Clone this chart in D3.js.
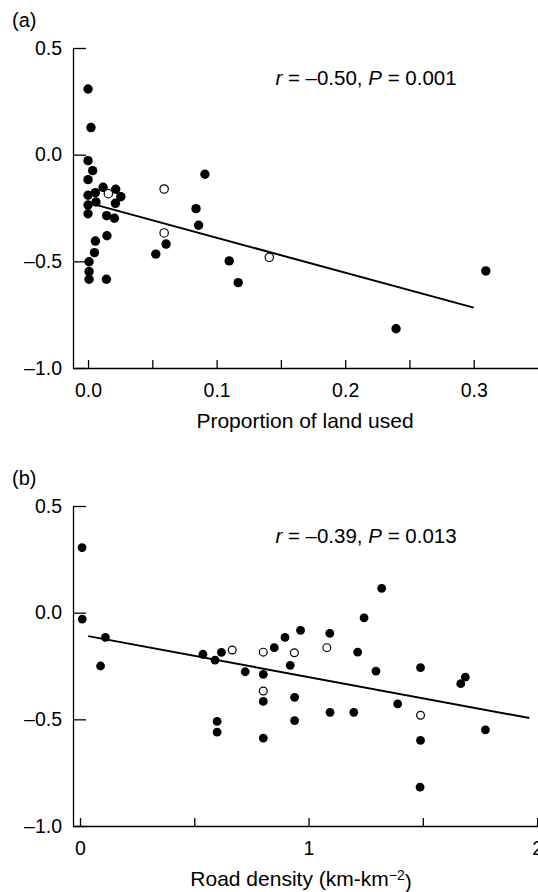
<!DOCTYPE html>
<html>
<head>
<meta charset="utf-8">
<script src="https://cdn.jsdelivr.net/npm/d3@7"></script>
<style>
  body { margin: 0; background: #fff; }
  svg text { font-family: "Liberation Sans", Arial, sans-serif; fill: #000; }
</style>
</head>
<body>
<svg id="fig" width="538" height="892"></svg>
<script>
// panel (a) data: proportion of land used vs residual
let filledA = [
    [0.000, 0.308], [0.0023, 0.127], [0.000, -0.028], [0.0036, -0.075], [0.000, -0.117],
    [0.0117, -0.153], [0.0215, -0.162], [0.0057, -0.178], [0.000, -0.19], [0.0255, -0.197],
    [0.0062, -0.222], [0.0213, -0.228], [0.000, -0.236], [0.000, -0.277], [0.0145, -0.286],
    [0.0205, -0.298], [0.0909, -0.092], [0.084, -0.253], [0.086, -0.331], [0.0607, -0.419],
    [0.0527, -0.466], [0.0147, -0.38], [0.0057, -0.405], [0.005, -0.459], [0.0008, -0.502],
    [0.0008, -0.548], [0.0008, -0.584], [0.0143, -0.584], [0.1098, -0.498], [0.1168, -0.6],
    [0.2396, -0.816], [0.3094, -0.545]
];
let openA = [[0.0158, -0.183], [0.0592, -0.161], [0.0592, -0.367], [0.141, -0.481]];
let fitA = [[0.004, -0.232], [0.3, -0.717]];

// panel (b) data: road density vs residual
let filledB = [
    [0.009, 0.305], [0.01, -0.03], [0.111, -0.116], [0.09, -0.25], [0.538, -0.195],
    [0.591, -0.222], [0.619, -0.186], [0.723, -0.277], [0.802, -0.289], [0.802, -0.416],
    [0.802, -0.588], [0.6, -0.51], [0.6, -0.56], [0.85, -0.164], [0.897, -0.116],
    [0.92, -0.247], [0.939, -0.397], [0.939, -0.506], [0.965, -0.083], [1.093, -0.097],
    [1.094, -0.467], [1.198, -0.467], [1.215, -0.185], [1.243, -0.024], [1.32, 0.114],
    [1.295, -0.274], [1.39, -0.428], [1.49, -0.258], [1.49, -0.599], [1.488, -0.818],
    [1.686, -0.302], [1.666, -0.333], [1.774, -0.549]
];
let openB = [[0.666, -0.175], [0.802, -0.185], [0.802, -0.367], [0.938, -0.188], [1.08, -0.164], [1.49, -0.481]];
let fitB = [[0.036, -0.110], [1.966, -0.494]];

// ticks
let yTicks = [0.5, 0, -0.5, -1];
let yLabels = ["0.5", "0.0", "\u20130.5", "\u20131.0"];
let xTicksA = [0, 0.05, 0.1, 0.15, 0.2, 0.25, 0.3];
let xLabelsA = ["0.0", "", "0.1", "", "0.2", "", "0.3"];
let xTicksB = [0, 0.5, 1, 1.5, 2];
let xLabelsB = ["0", "", "1", "", "2"];

let svg = d3.select("#fig");

function draw_panel(opt) {
    let g = svg.append("g");

    let x = d3.scaleLinear().domain(opt.xDomain).range([73, 538]);
    let y = d3.scaleLinear().domain([-1, 0.5]).range([opt.bottom, opt.bottom - 320]);

    // x axis, ticks point inward
    let xAxis = d3.axisBottom(x)
        .tickValues(opt.xTicks)
        .tickFormat(function(d, i) { return opt.xLabels[i]; })
        .tickSizeInner(-8)
        .tickSizeOuter(0)
        .tickPadding(15);
    let xg = g.append("g")
        .attr("transform", "translate(0," + opt.bottom + ")")
        .call(xAxis);

    // y axis
    let yAxis = d3.axisLeft(y)
        .tickValues(yTicks)
        .tickFormat(function(d, i) { return yLabels[i]; })
        .tickSizeInner(-13)
        .tickSizeOuter(0)
        .tickPadding(11);
    let yg = g.append("g")
        .attr("transform", "translate(73,0)")
        .call(yAxis);

    [xg, yg].forEach(function(a) {
        a.selectAll("path, line").attr("stroke", "#000").attr("stroke-width", 1.3);
        a.selectAll("text").style("font-size", "19.5px").attr("fill", "#000");
    });

    // regression line
    g.append("path")
        .datum(opt.fit)
        .attr("fill", "none")
        .attr("stroke", "#000")
        .attr("stroke-width", 2)
        .attr("d", d3.line()
            .x(function(d) { return x(d[0]); })
            .y(function(d) { return y(d[1]); }));

    // filled points
    g.selectAll(".filled")
        .data(opt.filled)
        .enter()
        .append("circle")
        .attr("cx", function(d) { return x(d[0]); })
        .attr("cy", function(d) { return y(d[1]); })
        .attr("r", opt.r)
        .attr("fill", "#000");

    // open points
    g.selectAll(".open")
        .data(opt.open)
        .enter()
        .append("circle")
        .attr("cx", function(d) { return x(d[0]); })
        .attr("cy", function(d) { return y(d[1]); })
        .attr("r", opt.r - 0.5)
        .attr("fill", "#fff")
        .attr("stroke", "#000")
        .attr("stroke-width", 1.2);

    // panel label
    g.append("text")
        .attr("x", 12)
        .attr("y", opt.bottom - 341)
        .style("font-size", "20px")
        .text(opt.label);

    // statistics
    let st = g.append("text")
        .attr("x", 366)
        .attr("y", opt.bottom - 283)
        .attr("text-anchor", "middle")
        .style("font-size", "20.5px");
    st.append("tspan").style("font-style", "italic").text("r");
    st.append("tspan").text(" = \u2013" + opt.r_val + ", ");
    st.append("tspan").style("font-style", "italic").text("P");
    st.append("tspan").text(" = " + opt.p_val);

    // axis title
    let t = g.append("text")
        .attr("x", opt.titleX)
        .attr("y", opt.bottom + 60)
        .attr("text-anchor", "middle")
        .style("font-size", "21px")
        .text(opt.title);
    if (opt.sup) {
        t.append("tspan").attr("dy", "-0.45em").style("font-size", "14px").text(opt.sup);
        t.append("tspan").attr("dy", "0.45em").text(")");
    }
}

draw_panel({
    xDomain: [-0.0117, 0.35], bottom: 368,
    xTicks: xTicksA, xLabels: xLabelsA,
    filled: filledA, open: openA, fit: fitA, r: 4.7,
    label: "(a)", r_val: "0.50", p_val: "0.001",
    title: "Proportion of land used", titleX: 305
});

draw_panel({
    xDomain: [-0.0306, 2.004], bottom: 826,
    xTicks: xTicksB, xLabels: xLabelsB,
    filled: filledB, open: openB, fit: fitB, r: 4.4,
    label: "(b)", r_val: "0.39", p_val: "0.013",
    title: "Road density (km-km", sup: "\u22122", titleX: 301
});
</script>
</body>
</html>
